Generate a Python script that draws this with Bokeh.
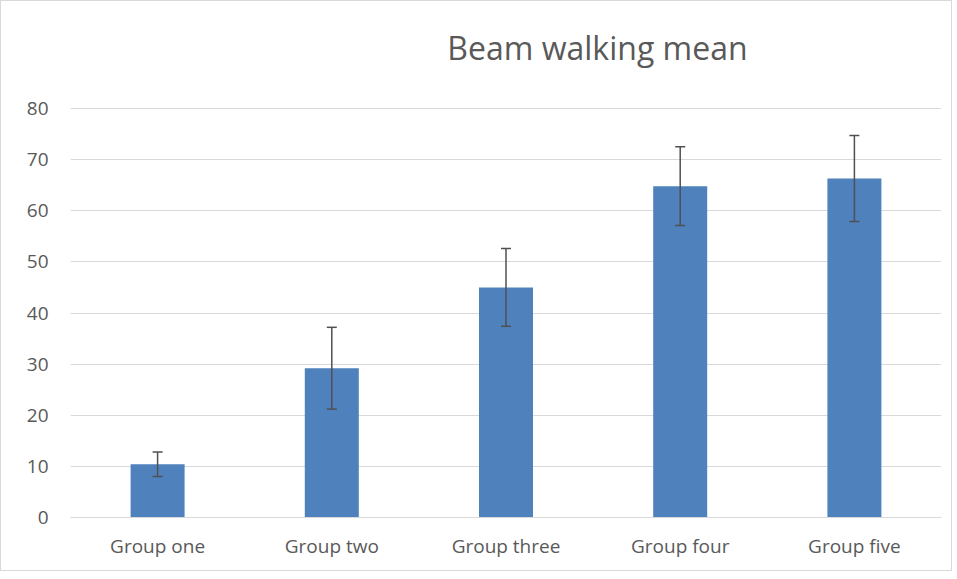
from bokeh.plotting import figure
from bokeh.models import ColumnDataSource, Whisker, TeeHead, FixedTicker, Range1d, Label
from bokeh.embed import file_html
from bokeh.resources import INLINE

groups = ["Group one", "Group two", "Group three", "Group four", "Group five"]
means = [10.4, 29.2, 45.0, 64.8, 66.3]
errors = [2.4, 8.0, 7.6, 7.7, 8.4]
y_ticks = [0, 10, 20, 30, 40, 50, 60, 70, 80]
title_text = "Beam walking mean"

lower = [m - e for m, e in zip(means, errors)]
upper = [m + e for m, e in zip(means, errors)]
src = ColumnDataSource(dict(g=groups, m=means, lo=lower, up=upper))

# frame extends to top of canvas so the title label can sit inside it; ticks stop at 80
p = figure(x_range=groups, y_range=Range1d(0, 100.93), width=952, height=571,
           output_backend="svg", toolbar_location=None, title=None,
           min_border_left=69, min_border_right=12, min_border_top=0, min_border_bottom=55)

title = Label(x=3.025, y=91.9, text=title_text,
              text_font="Open Sans", text_font_size="32px", text_color="#595959",
              text_align="center", text_baseline="middle")
p.add_layout(title)

p.vbar(x="g", top="m", width=0.31, source=src, fill_color="#4F81BD", line_color=None)
w = Whisker(base="g", lower="lo", upper="up", source=src, line_color="#505050", line_width=1.5,
            level="overlay",
            upper_head=TeeHead(size=10, line_color="#505050", line_width=1.5),
            lower_head=TeeHead(size=10, line_color="#505050", line_width=1.5))
p.add_layout(w)

p.outline_line_color = None
p.xgrid.grid_line_color = None
p.ygrid.grid_line_color = "#d9d9d9"
p.ygrid.grid_line_width = 1
p.yaxis.ticker = FixedTicker(ticks=y_ticks)
p.yaxis.axis_line_color = None
p.yaxis.major_tick_line_color = None
p.yaxis.minor_tick_line_color = None
p.yaxis.major_label_standoff = 16
p.xaxis.axis_line_color = "#d9d9d9"
p.xaxis.major_tick_line_color = None
p.xaxis.minor_tick_line_color = None
p.xaxis.major_label_standoff = 9
for ax in (p.xaxis[0], p.yaxis[0]):
    ax.major_label_text_font = "Open Sans"
    ax.major_label_text_font_size = "19px"
    ax.major_label_text_color = "#595959"
p.styles = {"border": "1px solid #d9d9d9"}

open("out.html", "w").write(file_html(p, INLINE))
